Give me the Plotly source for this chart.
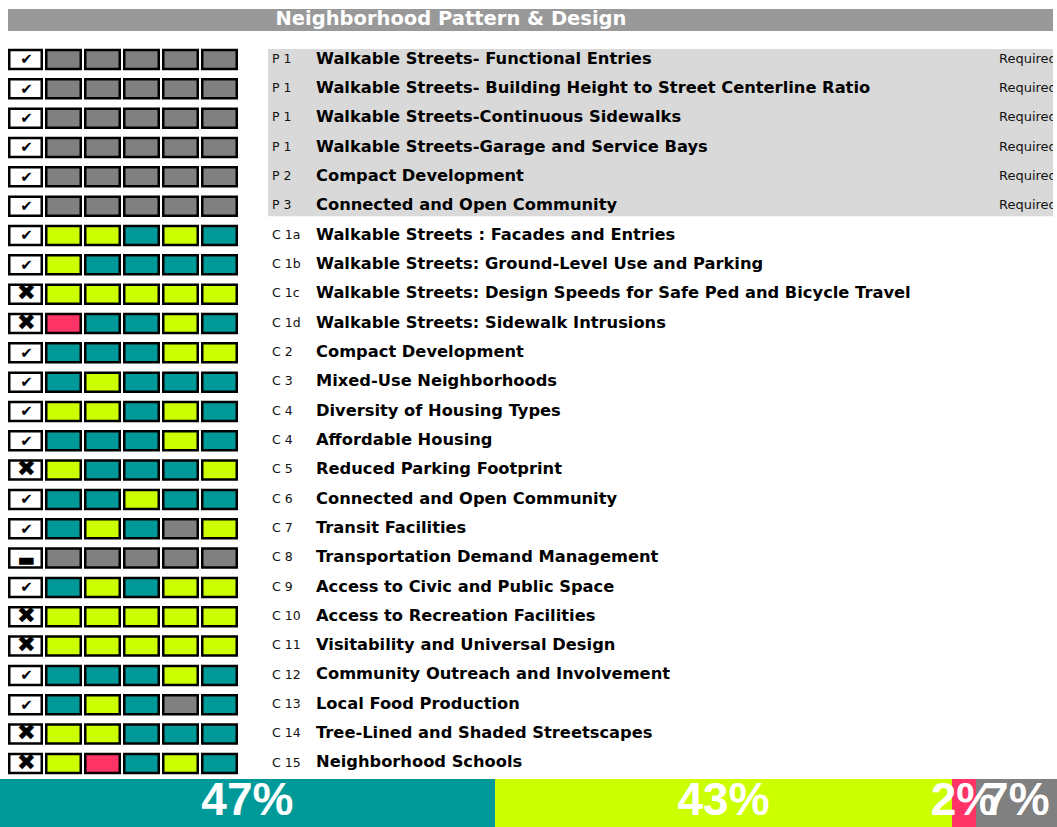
import plotly.graph_objects as go

# ---------------- data ----------------
codes = ["P 1", "P 1", "P 1", "P 1", "P 2", "P 3",
         "C 1a", "C 1b", "C 1c", "C 1d", "C 2", "C 3", "C 4", "C 4", "C 5",
         "C 6", "C 7", "C 8", "C 9", "C 10", "C 11", "C 12", "C 13", "C 14", "C 15"]
names = ["Walkable Streets- Functional Entries",
         "Walkable Streets- Building Height to Street Centerline Ratio",
         "Walkable Streets-Continuous Sidewalks",
         "Walkable Streets-Garage and Service Bays",
         "Compact Development",
         "Connected and Open Community",
         "Walkable Streets : Facades and Entries",
         "Walkable Streets: Ground-Level Use and Parking",
         "Walkable Streets: Design Speeds for Safe Ped and Bicycle Travel",
         "Walkable Streets: Sidewalk Intrusions",
         "Compact Development",
         "Mixed-Use Neighborhoods",
         "Diversity of Housing Types",
         "Affordable Housing",
         "Reduced Parking Footprint",
         "Connected and Open Community",
         "Transit Facilities",
         "Transportation Demand Management",
         "Access to Civic and Public Space",
         "Access to Recreation Facilities",
         "Visitability and Universal Design",
         "Community Outreach and Involvement",
         "Local Food Production",
         "Tree-Lined and Shaded Streetscapes",
         "Neighborhood Schools"]
requirement = ["Required"] * 6 + [""] * 19
status = ["yes"] * 6 + ["yes", "yes", "no", "no", "yes", "yes", "yes", "yes", "no",
                        "yes", "yes", "na", "yes", "no", "no", "yes", "yes", "no", "no"]
# G = gray, T = teal, L = lime, P = pink
ratings = [
    "GGGGG", "GGGGG", "GGGGG", "GGGGG", "GGGGG", "GGGGG",
    "LLTLT", "LTTTT", "LLLLL", "PTTLT", "TTTLL", "TLTTT", "LLTLT", "TTTLT",
    "LTTTL", "TTLTT", "TLTGL", "GGGGG", "TLTLL", "LLLLL", "LLLLL", "TTTLT",
    "TLTGT", "LLTTT", "LPTLT",
]
title = "Neighborhood Pattern & Design"
summary_labels = ["47%", "43%", "2%", "7%"]
summary_share = [46.8, 43.3, 2.2, 7.7]
summary_keys = ["T", "L", "P", "G"]

# ---------------- styles / layout ----------------
colors = {"G": "#808080", "T": "#009999", "L": "#CCFF00", "P": "#FF3366"}
glyphs = {"yes": "\u2714", "no": "\u2716", "na": "\u25AC"}
glyph_size = {"yes": 15, "no": 23, "na": 19}
glyph_dy = {"yes": 1, "no": 0.5, "na": 3.5}
W, H = 1057, 827
row0, pitch = 59.5, 29.33
cell_h = 21.5
box_x = (8, 43)
cell_x0, cell_pitch, cell_w = 45, 39, 37
bw = 2.5
code_x, name_x, req_x = 272, 316, 999

fig = go.Figure()
shapes = []

# title bar
shapes.append(dict(type="rect", xref="x", yref="y", x0=8, x1=1053, y0=9, y1=31,
                   fillcolor="#999999", line=dict(width=0), layer="below"))
# P-row background
n_p = sum(1 for c in codes if c.startswith("P"))
shapes.append(dict(type="rect", xref="x", yref="y", x0=268, x1=1053,
                   y0=row0 - 10.5, y1=row0 + pitch * (n_p - 1) + 10,
                   fillcolor="#D9D9D9", line=dict(width=0), layer="below"))

ys = [row0 + pitch * i for i in range(len(codes))]
for i, yc in enumerate(ys):
    y0, y1 = yc - cell_h / 2 + bw / 2, yc + cell_h / 2 - bw / 2
    shapes.append(dict(type="rect", xref="x", yref="y",
                       x0=box_x[0] + bw / 2, x1=box_x[1] - bw / 2, y0=y0, y1=y1,
                       fillcolor="white", line=dict(color="black", width=bw), layer="below"))
    for k, ch in enumerate(ratings[i]):
        x0 = cell_x0 + cell_pitch * k
        shapes.append(dict(type="rect", xref="x", yref="y",
                           x0=x0 + bw / 2, x1=x0 + cell_w - bw / 2, y0=y0, y1=y1,
                           fillcolor=colors[ch], line=dict(color="black", width=bw),
                           layer="below"))

# status glyphs, one trace per kind
gxc = (box_x[0] + box_x[1]) / 2 + 1
for kind in ["yes", "no", "na"]:
    idx = [i for i, s in enumerate(status) if s == kind]
    fig.add_trace(go.Scatter(x=[gxc] * len(idx), y=[ys[i] + glyph_dy[kind] for i in idx],
                             mode="text", text=[glyphs[kind]] * len(idx),
                             textfont=dict(family="DejaVu Sans", size=glyph_size[kind],
                                           color="black"),
                             textposition="middle center", hoverinfo="skip",
                             showlegend=False, cliponaxis=False))
# codes
fig.add_trace(go.Scatter(x=[code_x] * len(ys), y=ys, mode="text", text=codes,
                         textfont=dict(family="DejaVu Sans", size=12.5, color="#111111"),
                         textposition="middle right", hoverinfo="skip", showlegend=False,
                         cliponaxis=False))
# names
fig.add_trace(go.Scatter(x=[name_x] * len(ys), y=ys, mode="text",
                         text=["<b>%s</b>" % n for n in names],
                         textfont=dict(family="DejaVu Sans", size=16.3, color="black"),
                         textposition="middle right", hoverinfo="skip", showlegend=False,
                         cliponaxis=False))
# requirement
req_idx = [i for i, r in enumerate(requirement) if r]
fig.add_trace(go.Scatter(x=[req_x] * len(req_idx), y=[ys[i] for i in req_idx], mode="text",
                         text=[requirement[i] for i in req_idx],
                         textfont=dict(family="DejaVu Sans", size=13, color="#111111"),
                         textposition="middle right", hoverinfo="skip", showlegend=False,
                         cliponaxis=False))
# title
fig.add_trace(go.Scatter(x=[451], y=[20], mode="text", text=["<b>%s</b>" % title],
                         textfont=dict(family="DejaVu Sans", size=19.5, color="white"),
                         textposition="middle center", hoverinfo="skip", showlegend=False,
                         cliponaxis=False))

# clipping covers
shapes.append(dict(type="rect", xref="x", yref="y", x0=1053, x1=W, y0=0, y1=778,
                   fillcolor="white", line=dict(width=0), layer="above"))
for i, n in enumerate(names):
    if n.endswith("Travel"):
        shapes.append(dict(type="rect", xref="x", yref="y", x0=915, x1=1053,
                           y0=ys[i] - 12, y1=ys[i] + 12,
                           fillcolor="white", line=dict(width=0), layer="above"))

# summary bar
for key, val in zip(summary_keys, summary_share):
    fig.add_trace(go.Bar(x=[val], y=[0], orientation="h", xaxis="x2", yaxis="y2",
                         marker=dict(color=colors[key], line=dict(width=0)), width=1,
                         hoverinfo="skip", showlegend=False))
centers, acc = [], 0
for val in summary_share:
    centers.append(acc + val / 2)
    acc += val
fig.add_trace(go.Scatter(x=centers, y=[0] * len(centers), mode="text", text=summary_labels,
                         xaxis="x2", yaxis="y2",
                         textfont=dict(family="Liberation Sans", size=46, color="white"),
                         texttemplate="<b>%{text}</b>",
                         textposition="middle center", hoverinfo="skip", showlegend=False,
                         cliponaxis=False))

fig.update_layout(
    width=W, height=H, margin=dict(l=0, r=0, t=0, b=0),
    paper_bgcolor="white", plot_bgcolor="white",
    barmode="stack", bargap=0,
    shapes=shapes,
    xaxis=dict(range=[0, W], visible=False, fixedrange=True, domain=[0, 1]),
    yaxis=dict(range=[H, 0], visible=False, fixedrange=True, domain=[0, 1]),
    xaxis2=dict(range=[0, sum(summary_share)], visible=False, domain=[0, 1],
                anchor="y2", fixedrange=True),
    yaxis2=dict(range=[-0.5, 0.5], visible=False, domain=[0, 48 / H],
                anchor="x2", fixedrange=True),
)

fig.write_html("out.html", config={"displayModeBar": False},
               post_script="document.body.style.margin='0';document.body.style.overflow='hidden';")
